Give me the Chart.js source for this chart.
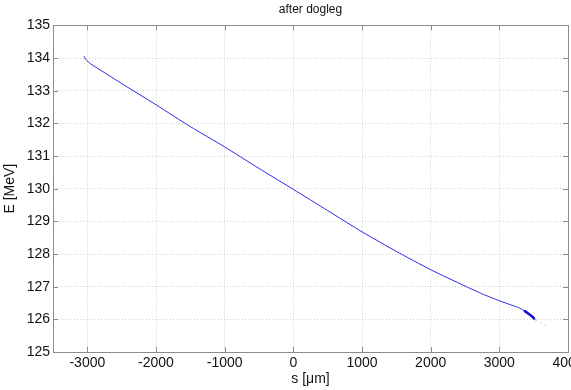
<!DOCTYPE html>
<html>
<head>
<meta charset="utf-8">
<script src="https://cdn.jsdelivr.net/npm/chart.js@4.4.1/dist/chart.umd.min.js"></script>
<style>
  html, body { margin: 0; padding: 0; background: #fff; }
  #wrap { width: 571px; height: 390px; position: relative; }
</style>
</head>
<body>
<div id="wrap"><canvas id="chart"></canvas></div>
<script>
// s [um] and E [MeV]
const sMain = [-3050, -3020, -2950, -2800, -2500, -2000, -1500, -1000, -500, 0, 500, 1000, 1500, 2000, 2500, 2750, 3000, 3200, 3300, 3400, 3480, 3530]
const eMain = [134.06, 133.95, 133.82, 133.62, 133.22, 132.57, 131.9, 131.28, 130.62, 129.98, 129.33, 128.68, 128.08, 127.52, 127.02, 126.78, 126.57, 126.42, 126.34, 126.2, 126.08, 125.98]

// dense blob near the tail end
const sBlob = [3360, 3420, 3470, 3515]
const eBlob = [126.27, 126.18, 126.1, 126.01]

// faint tail
const sTail = [3530, 3620, 3700]
const eTail = [125.98, 125.88, 125.78]

const xTicks = [-3000, -2000, -1000, 0, 1000, 2000, 3000, 4000]
const yTicks = [125, 126, 127, 128, 129, 130, 131, 132, 133, 134, 135]

const toPoints = (xs, ys) => xs.map((x, i) => ({ x: x, y: ys[i] }))

const boxPlugin = {
  id: "box",
  afterDraw(chart) {
    const { ctx, chartArea: a, scales } = chart
    ctx.save()
    ctx.strokeStyle = "#8c8c8c"
    ctx.lineWidth = 1
    ctx.strokeRect(Math.round(a.left) + 0.5, Math.round(a.top) + 0.5, Math.round(a.right - a.left), Math.round(a.bottom - a.top))
    ctx.beginPath()
    xTicks.forEach(v => {
      const px = Math.round(scales.x.getPixelForValue(v)) + 0.5
      ctx.moveTo(px, a.bottom); ctx.lineTo(px, a.bottom - 5)
      ctx.moveTo(px, a.top); ctx.lineTo(px, a.top + 5)
    })
    yTicks.forEach(v => {
      const py = Math.round(scales.y.getPixelForValue(v)) + 0.5
      ctx.moveTo(a.left, py); ctx.lineTo(a.left + 5, py)
      ctx.moveTo(a.right, py); ctx.lineTo(a.right - 5, py)
    })
    ctx.stroke()
    ctx.restore()
  }
}

const font = { family: "Liberation Sans, Arial, sans-serif", size: 14 }

new Chart(document.getElementById("chart"), {
  type: "scatter",
  data: {
    datasets: [
      {
        data: toPoints(sMain, eMain),
        showLine: true,
        borderColor: "#2a2aea",
        borderWidth: 1,
        pointRadius: 0,
        tension: 0.2
      },
      {
        data: toPoints(sBlob, eBlob),
        showLine: true,
        borderColor: "#0000d0",
        borderWidth: 2.5,
        pointRadius: 0,
        tension: 0.2
      },
      {
        data: toPoints(sTail, eTail),
        showLine: true,
        borderColor: "rgba(140, 140, 255, 0.45)",
        borderWidth: 1,
        borderDash: [2, 3],
        pointRadius: 0
      }
    ]
  },
  options: {
    responsive: true,
    maintainAspectRatio: false,
    animation: false,
    layout: {
      padding: { left: 0, right: 3, top: 0, bottom: 0 }
    },
    plugins: {
      legend: { display: false },
      tooltip: { enabled: false },
      title: {
        display: true,
        text: "after dogleg",
        fullSize: false,
        color: "#111",
        font: { family: "Liberation Sans, Arial, sans-serif", size: 12, weight: "normal" },
        padding: { top: 2, bottom: 9 }
      }
    },
    scales: {
      x: {
        type: "linear",
        min: -3500,
        max: 4000,
        afterBuildTicks: scale => { scale.ticks = xTicks.map(v => ({ value: v })) },
        afterFit: scale => { scale.height = 38; scale.paddingLeft = 0; scale.paddingRight = 0 },
        ticks: {
          color: "#111",
          padding: 3,
          font: font,
          callback: v => String(v)
        },
        grid: {
          color: "#cfcfcf",
          drawTicks: false
        },
        border: { display: false, dash: [1, 2] },
        title: {
          display: true,
          text: "s [\u03bcm]",
          color: "#111",
          padding: { top: 0, bottom: 2 },
          font: font
        }
      },
      y: {
        min: 125,
        max: 135,
        afterBuildTicks: scale => { scale.ticks = yTicks.map(v => ({ value: v })) },
        afterFit: scale => { scale.width = 53 },
        ticks: {
          color: "#111",
          padding: 3,
          font: font,
          callback: v => String(v)
        },
        grid: {
          color: "#cfcfcf",
          drawTicks: false
        },
        border: { display: false, dash: [1, 2] },
        title: {
          display: true,
          text: "E [MeV]",
          color: "#111",
          padding: { top: 2, bottom: 0 },
          font: font
        }
      }
    }
  },
  plugins: [boxPlugin]
})
</script>
</body>
</html>
